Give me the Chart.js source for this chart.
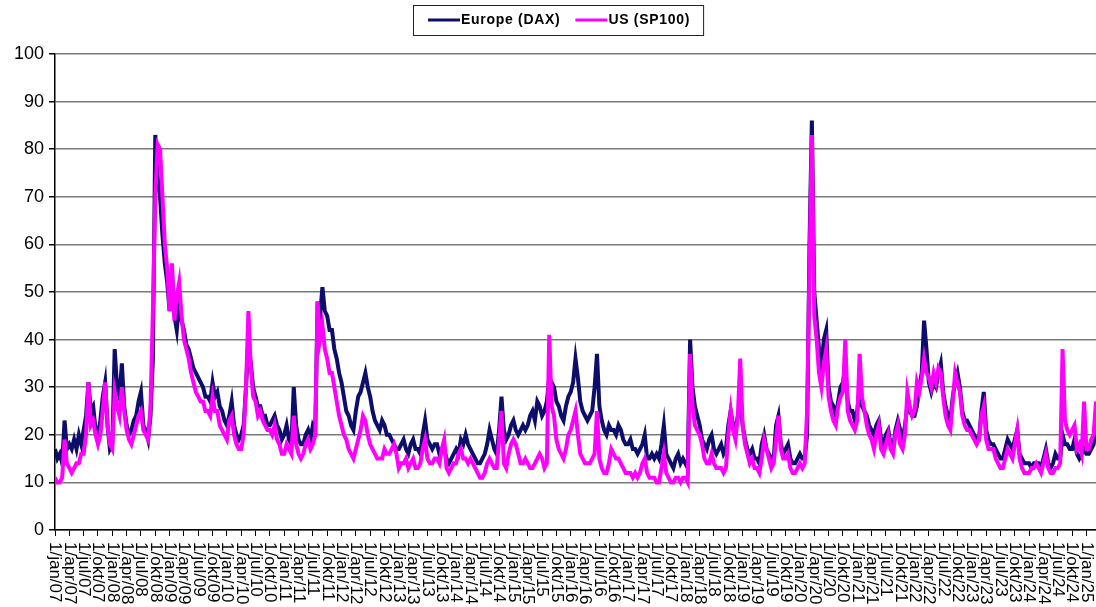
<!DOCTYPE html>
<html>
<head>
<meta charset="utf-8">
<script src="https://cdn.jsdelivr.net/npm/chart.js@4.4.1/dist/chart.umd.min.js"></script>
<style>
  html, body { margin: 0; padding: 0; background: #fff; }
  #wrap { width: 1096px; height: 607px; }
</style>
</head>
<body>
<div id="wrap"><canvas id="vol-chart"></canvas></div>
<script>
// half-month readings, jan 2007 .. mar 2025 (one row per year)
const dax = [
  17,15, 16,14, 23,17, 18,17, 19,17, 20,18, 21,24, 31,25, 26,21, 20,23, 28,31, 22,17,
  18,38, 30,28, 35,26, 22,20, 21,23, 24,27, 29,22, 21,19, 24,36, 83,74, 70,62, 56,52,
  46,54, 45,42, 48,44, 42,39, 38,36, 34,33, 32,31, 30,28, 28,27, 31,28, 29,26, 25,23,
  22,24, 27,22, 20,19, 20,22, 30,40, 35,30, 28,26, 26,24, 24,22, 22,23, 24,22, 21,19,
  20,22, 19,18, 30,22, 19,18, 18,20, 21,19, 22,21, 48,45, 51,46, 45,42, 42,38, 36,33,
  31,28, 25,24, 22,21, 25,28, 29,31, 33,30, 28,25, 23,22, 21,23, 22,20, 20,19, 18,17,
  17,18, 19,17, 16,18, 19,17, 17,16, 20,23, 19,18, 17,18, 18,16, 17,17, 15,14, 15,16,
  17,16, 19,18, 20,18, 17,16, 15,14, 14,15, 16,18, 21,19, 17,16, 21,28, 21,19, 20,22,
  23,21, 20,21, 22,21, 22,24, 25,23, 27,26, 24,25, 27,32, 31,30, 27,26, 24,23, 26,28,
  29,31, 36,32, 27,25, 24,23, 24,25, 30,37, 26,23, 21,20, 22,21, 21,20, 22,21, 19,18,
  18,19, 17,17, 16,17, 18,20, 15,15, 16,15, 16,15, 18,22, 16,15, 14,13, 15,16, 14,15,
  14,13, 40,30, 26,24, 22,19, 18,17, 19,20, 17,16, 17,18, 16,17, 22,25, 22,21, 24,27,
  22,19, 17,16, 17,15, 15,14, 18,20, 17,16, 15,15, 22,24, 18,16, 17,18, 15,14, 14,15,
  16,15, 15,20, 60,86, 50,44, 38,34, 40,42, 30,27, 26,24, 27,30, 31,34, 27,25, 25,23,
  25,30, 26,25, 24,22, 21,20, 22,23, 19,18, 20,21, 18,17, 21,23, 21,19, 22,26, 25,24,
  24,26, 30,33, 44,38, 31,29, 31,30, 33,35, 29,26, 24,23, 28,31, 33,30, 25,23, 23,22,
  21,20, 19,19, 25,29, 21,19, 18,18, 17,16, 15,15, 17,19, 18,17, 19,21, 16,15, 14,14,
  14,13, 14,14, 14,13, 15,17, 14,13, 14,16, 15,15, 20,18, 18,17, 17,19, 16,15, 16,17,
  16,16, 17,18, 22
];
const sp100 = [
  11,10, 10,11, 19,14, 13,12, 13,14, 14,16, 16,20, 31,22, 23,20, 18,20, 25,31, 22,18,
  17,29, 26,24, 30,25, 21,19, 18,20, 22,24, 25,21, 20,19, 26,46, 70,81, 80,70, 60,55,
  46,56, 44,49, 52,45, 40,38, 36,33, 31,29, 28,27, 27,25, 25,24, 28,25, 25,22, 21,20,
  19,23, 24,20, 18,17, 17,20, 30,46, 34,28, 27,24, 25,23, 22,21, 21,20, 22,19, 18,16,
  16,18, 17,16, 24,18, 16,15, 16,18, 19,17, 18,20, 48,40, 43,38, 36,33, 33,30, 27,24,
  22,20, 19,17, 16,15, 17,19, 21,24, 23,20, 18,17, 16,15, 15,15, 17,16, 16,17, 18,16,
  13,14, 14,15, 13,14, 15,13, 13,14, 17,19, 15,14, 14,15, 15,14, 17,19, 13,12, 13,14,
  14,16, 17,15, 15,14, 15,14, 13,12, 11,11, 12,14, 15,14, 13,13, 19,25, 14,13, 16,18,
  19,18, 16,14, 14,15, 14,13, 13,14, 15,16, 15,13, 14,41, 26,24, 19,17, 16,15, 17,20,
  21,23, 25,20, 16,15, 14,14, 14,15, 16,25, 15,13, 12,12, 14,17, 16,15, 15,14, 13,12,
  12,12, 11,12, 11,12, 14,15, 12,11, 11,11, 10,10, 13,16, 12,11, 10,10, 11,11, 10,11,
  11,10, 37,26, 22,21, 20,18, 15,14, 14,16, 14,13, 13,13, 12,13, 20,25, 21,19, 24,36,
  22,18, 16,14, 15,13, 13,12, 15,19, 17,15, 13,14, 19,24, 17,15, 15,16, 13,12, 12,13,
  14,13, 14,25, 55,83, 45,40, 33,30, 35,38, 28,25, 23,22, 26,28, 29,40, 25,23, 22,21,
  23,37, 28,25, 22,20, 19,17, 20,22, 17,16, 18,20, 17,16, 20,22, 18,17, 20,29, 26,24,
  25,31, 29,32, 36,33, 32,30, 33,31, 34,33, 28,24, 22,21, 27,33, 31,29, 24,22, 21,21,
  20,19, 18,19, 24,26, 19,17, 17,17, 15,14, 13,13, 15,17, 16,15, 18,21, 15,13, 12,12,
  12,13, 13,14, 13,12, 14,16, 13,12, 12,13, 13,14, 38,23, 21,20, 21,22, 17,18, 16,27,
  17,17, 19,20, 27
];
const quarterNames = ['jan', 'apr', 'jul', 'okt'];
const yearLabels = ['07', '08', '09', '10', '11', '12', '13', '14', '15',
  '16', '17', '18', '19', '20', '21', '22', '23', '24', '25'];
const yTicks = [0, 10, 20, 30, 40, 50, 60, 70, 80, 90, 100];

// x axis runs in months since jan 2007; one tick per quarter
const quarterTicks = [];
for (let m = 0; m <= 216; m += 3) quarterTicks.push(m);

function quarterLabel(m) {
  return '1/' + quarterNames[(m / 3) % 4] + '/' + yearLabels[Math.floor(m / 12)];
}

const toPoints = arr => arr.map((v, i) => ({ x: i / 2, y: v }));

// x labels run top-to-bottom like the excel original, plus the boxed legend
const excelBits = {
  id: 'excelBits',
  afterDraw(chart) {
    const ctx = chart.ctx;
    const xs = chart.scales.x;
    ctx.save();
    ctx.fillStyle = '#000';
    ctx.font = '17px "Liberation Sans", Arial, sans-serif';
    ctx.textAlign = 'left';
    ctx.textBaseline = 'middle';
    xs.ticks.forEach(t => {
      const px = xs.getPixelForValue(t.value);
      ctx.save();
      ctx.translate(px, chart.chartArea.bottom + 12);
      ctx.rotate(Math.PI / 2);
      ctx.fillText(quarterLabel(t.value), 0, 0);
      ctx.restore();
    });
    ctx.restore();

    // legend
    const items = chart.data.datasets.slice().sort((a, b) => b.order - a.order);
    ctx.save();
    ctx.font = 'bold 14px "Liberation Sans", Arial, sans-serif';
    if ('letterSpacing' in ctx) ctx.letterSpacing = '0.7px';
    ctx.textBaseline = 'middle';
    ctx.textAlign = 'left';
    const left = 413, top = 5, h = 30, lineLen = 32;
    let x = left + 15;
    const cy = top + h / 2;
    items.forEach(ds => {
      ctx.strokeStyle = ds.borderColor;
      ctx.lineWidth = 3;
      ctx.beginPath();
      ctx.moveTo(x, cy);
      ctx.lineTo(x + lineLen, cy);
      ctx.stroke();
      x += lineLen + 1;
      ctx.fillStyle = '#000';
      ctx.fillText(ds.label, x, cy);
      x += ctx.measureText(ds.label).width + 15;
    });
    ctx.strokeStyle = '#222';
    ctx.lineWidth = 1;
    ctx.strokeRect(left + 0.5, top + 0.5, x - left - 2, h);
    ctx.restore();
  }
};

new Chart(document.getElementById('vol-chart'), {
  type: 'line',
  data: {
    datasets: [
      {
        label: 'Europe (DAX)',
        data: toPoints(dax),
        borderColor: '#0d0d6b',
        borderWidth: 4,
        pointRadius: 0,
        tension: 0,
        order: 2
      },
      {
        label: 'US (SP100)',
        data: toPoints(sp100),
        borderColor: '#ff00ff',
        borderWidth: 4,
        pointRadius: 0,
        tension: 0,
        order: 1
      }
    ]
  },
  options: {
    responsive: true,
    maintainAspectRatio: false,
    animation: false,
    layout: { padding: { top: 54, right: 0, bottom: 0, left: 0 } },
    plugins: {
      legend: { display: false },
      tooltip: { enabled: false }
    },
    scales: {
      x: {
        type: 'linear',
        min: 0,
        max: 218,
        afterBuildTicks(scale) {
          scale.ticks = quarterTicks.map(v => ({ value: v }));
        },
        afterFit(scale) { scale.height = 77; },
        ticks: { display: false, autoSkip: false },
        grid: { drawOnChartArea: false, drawTicks: true, tickLength: 6, color: '#000', lineWidth: 1 },
        border: { color: '#000', width: 1.5 }
      },
      y: {
        min: 0,
        max: 100,
        afterBuildTicks(scale) {
          scale.ticks = yTicks.map(v => ({ value: v }));
        },
        afterFit(scale) { scale.width = 55; },
        ticks: {
          color: '#000',
          padding: 5,
          font: { family: '"Liberation Sans", Arial, sans-serif', size: 18 }
        },
        grid: {
          color: '#7a7a7a',
          lineWidth: 1.5,
          tickLength: 6,
          tickColor: '#000'
        },
        border: { color: '#000', width: 1.5 }
      }
    }
  },
  plugins: [excelBits]
});
</script>
</body>
</html>
